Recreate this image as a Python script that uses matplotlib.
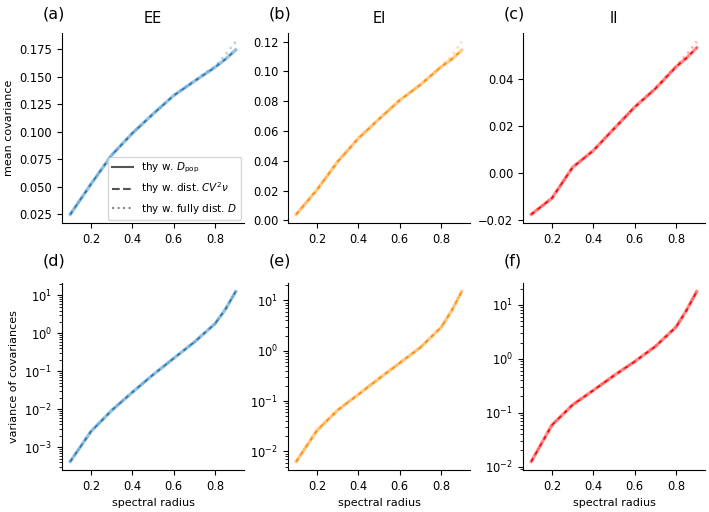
import matplotlib
matplotlib.use("Agg")
import matplotlib.pyplot as plt
from matplotlib.lines import Line2D

plt.rcParams['font.size'] = 8.3

radius = [0.1, 0.2, 0.3, 0.4, 0.5, 0.6, 0.7, 0.8, 0.85, 0.9]

# mean covariance (top row)
mean_ee = [0.025, 0.0525, 0.0788, 0.0987, 0.1162, 0.133, 0.146, 0.1587, 0.1660, 0.1745]
mean_ee_full = [0.025, 0.0525, 0.0788, 0.0987, 0.1162, 0.133, 0.1465, 0.1595, 0.1700, 0.1820]
mean_ei = [0.004, 0.0205, 0.0394, 0.055, 0.068, 0.0806, 0.091, 0.103, 0.108, 0.1142]
mean_ei_full = [0.004, 0.0205, 0.0394, 0.055, 0.068, 0.0806, 0.0912, 0.1035, 0.110, 0.1200]
mean_ii = [-0.0174, -0.0105, 0.0026, 0.0097, 0.019, 0.0282, 0.036, 0.0453, 0.049, 0.0534]
mean_ii_full = [-0.0174, -0.0105, 0.0026, 0.0097, 0.019, 0.0282, 0.0362, 0.0456, 0.0505, 0.0560]

# variance of covariances (bottom row)
var_ee = [4.2e-4, 2.6e-3, 9.3e-3, 0.028, 0.081, 0.22, 0.59, 1.8, 4.3, 12.7]
var_ei = [0.0063, 0.026, 0.066, 0.135, 0.28, 0.57, 1.16, 2.9, 6.1, 15.0]
var_ii = [0.0124, 0.059, 0.14, 0.26, 0.49, 0.89, 1.7, 3.9, 7.9, 17.8]

titles = ["EE", "EI", "II"]
colors = ["tab:blue", "darkorange", "red"]
panel_tags = ["(a)", "(b)", "(c)", "(d)", "(e)", "(f)"]

means = [mean_ee, mean_ei, mean_ii]
means_full = [mean_ee_full, mean_ei_full, mean_ii_full]
variances = [var_ee, var_ei, var_ii]

fig = plt.figure(figsize=(7.09, 5.12), dpi=100)

lefts = [62 / 709, 288 / 709, 523 / 709]
w = 182 / 709
top_row = (1 - 223 / 512, 190 / 512)
bot_row = (1 - 470 / 512, 187 / 512)


def draw(ax, y, y_full, c):
    ax.plot(radius, y, '-', color=c, lw=2.4, alpha=0.45)
    ax.plot(radius, y, '--', color=c, lw=1.1, alpha=1.0, dashes=(2.5, 3))
    ax.plot(radius, y_full, ':', color=c, lw=1.8, alpha=0.3)


axes = []
for i in range(3):
    ax = fig.add_axes([lefts[i], top_row[0], w, top_row[1]])
    draw(ax, means[i], means_full[i], colors[i])
    ax.set_title(titles[i], fontsize=10.5, pad=7)
    axes.append(ax)
for i in range(3):
    ax = fig.add_axes([lefts[i], bot_row[0], w, bot_row[1]])
    draw(ax, variances[i], variances[i], colors[i])
    ax.set_yscale('log')
    ax.set_xlabel('spectral radius', fontsize=8)
    axes.append(ax)

axes[0].set_yticks([0.025, 0.05, 0.075, 0.1, 0.125, 0.15, 0.175])
axes[1].set_yticks([0.0, 0.02, 0.04, 0.06, 0.08, 0.1, 0.12])
axes[2].set_yticks([-0.02, 0.0, 0.02, 0.04])
axes[0].set_ylabel('mean covariance', fontsize=8)
axes[3].set_ylabel('variance of covariances', fontsize=8)

for k, ax in enumerate(axes):
    ax.spines['top'].set_visible(False)
    ax.spines['right'].set_visible(False)
    ax.set_xticks([0.2, 0.4, 0.6, 0.8])
    ax.tick_params(labelsize=8.3, length=3.5)
    ax.text(-0.105, 1.1 if k < 3 else 1.12, panel_tags[k], transform=ax.transAxes,
            fontsize=11.5, ha='left', va='center')

handles = [
    Line2D([], [], color='#555555', ls='-', lw=1.5),
    Line2D([], [], color='#555555', ls='--', lw=1.5),
    Line2D([], [], color='#888888', ls=':', lw=1.5),
]
labels = [r'thy w. $D_\mathrm{pop}$', r'thy w. dist. $CV^2\nu$', r'thy w. fully dist. $D$']
axes[0].legend(handles, labels, loc='lower right', fontsize=7.5, framealpha=0.8,
               handlelength=2.0, borderaxespad=0.3)

fig.savefig('out.png', dpi=100)
